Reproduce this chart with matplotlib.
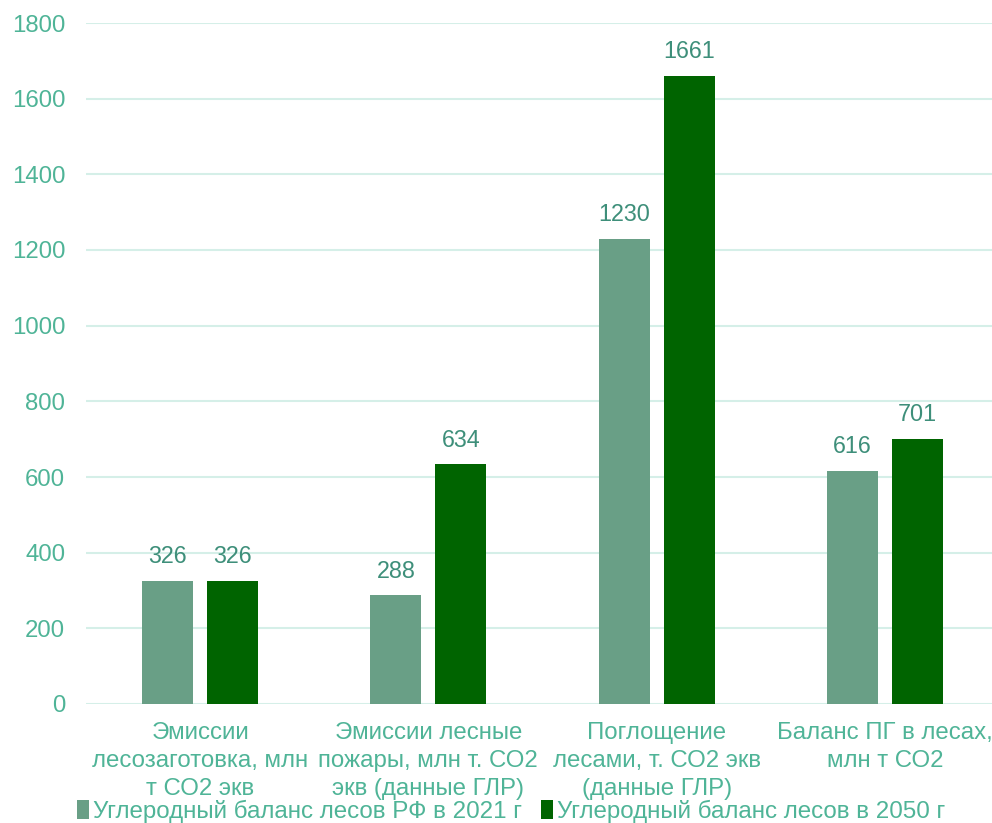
import matplotlib
matplotlib.use("Agg")
import matplotlib.pyplot as plt
import numpy as np

categories = [
    "Эмиссии\nлесозаготовка, млн\nт СО2 экв",
    "Эмиссии лесные\nпожары, млн т. СО2\nэкв (данные ГЛР)",
    "Поглощение\nлесами, т. СО2 экв\n(данные ГЛР)",
    "Баланс ПГ в лесах,\nмлн т СО2",
]
series_names = ["Углеродный баланс лесов РФ в 2021 г", "Углеродный баланс лесов в 2050 г"]
values_2021 = [326, 288, 1230, 616]
values_2050 = [326, 634, 1661, 701]
y_ticks = [0, 200, 400, 600, 800, 1000, 1200, 1400, 1600, 1800]

plt.rcParams['font.family'] = ['Liberation Sans', 'DejaVu Sans']

c_light = "#699F86"
c_dark = "#006400"
tick_col = "#4FB497"
val_col = "#3E8F7A"
grid_col = "#D5EFE8"

fig = plt.figure(figsize=(9.92, 8.23), dpi=100)
ax = fig.add_axes([86/992, 1-704/823, (999-86)/992, 681/823])

x = np.arange(len(categories))
w = 0.224
off = 0.1425
b1 = ax.bar(x - off, values_2021, w, color=c_light, label=series_names[0], zorder=3)
b2 = ax.bar(x + off, values_2050, w, color=c_dark, label=series_names[1], zorder=3)

for bars, vals in ((b1, values_2021), (b2, values_2050)):
    for r, v in zip(bars, vals):
        ax.annotate(str(v), (r.get_x() + r.get_width()/2, v), xytext=(0, 9),
                    textcoords="offset points", ha="center", va="bottom",
                    fontsize=16.8, color=val_col)

ax.set_xlim(-0.5, 3.5)
ax.set_ylim(0, 1800)
ax.set_yticks(y_ticks)
ax.set_yticklabels([str(t) for t in y_ticks])
ax.set_xticks(x)
ax.set_xticklabels(categories, fontsize=17.3, color=tick_col, linespacing=1.36)
ax.tick_params(axis='y', length=0, pad=15, labelsize=17.3, labelcolor=tick_col)
ax.tick_params(axis='x', length=0, pad=13)
ax.grid(axis='y', color=grid_col, linewidth=1.5, zorder=0)
for s in ax.spines.values():
    s.set_visible(False)

fig.legend(loc='center', bbox_to_anchor=(0.515, 1-811/823), ncol=2, frameon=False,
           fontsize=17.4, handlelength=0.5, handleheight=0.85, handletextpad=0.15,
           columnspacing=0.8, labelcolor=tick_col, borderpad=0)

fig.savefig("out.png", dpi=100)
